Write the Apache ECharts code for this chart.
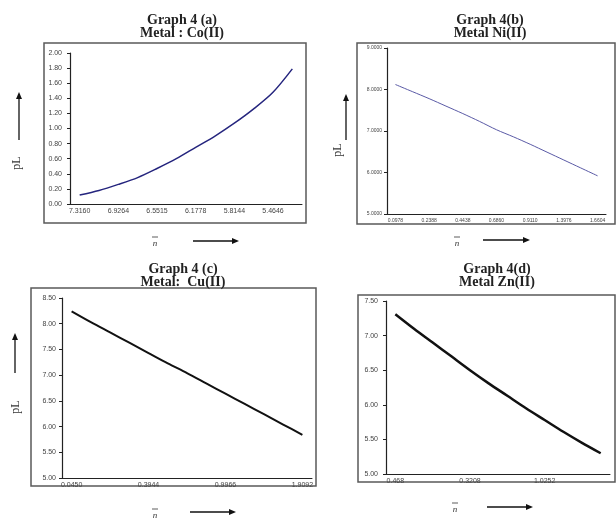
<!DOCTYPE html>
<html>
<head>
<meta charset="utf-8">
<script src="https://cdn.jsdelivr.net/npm/echarts@6/dist/echarts.min.js"></script>
<style>
  body { margin: 0; background: #fff; }
  #main { width: 616px; height: 524px; }
</style>
</head>
<body>
<div id="main"></div>
<script>
// n-bar categories and pL values
var catA = ['7.3160','7.1200','6.9264','6.7380','6.5515','6.3640','6.1778','5.9950','5.8144','5.6380','5.4646','5.2950'];
var pLA = [0.12, 0.18, 0.26, 0.35, 0.47, 0.60, 0.75, 0.90, 1.07, 1.26, 1.48, 1.79];

var catB = ['0.0978','0.1680','0.2388','0.3410','0.4438','0.5650','0.6860','0.7980','0.9110','1.1540','1.3976','1.5290','1.6604'];
var pLB = [8.12, 7.95, 7.78, 7.60, 7.42, 7.23, 7.03, 6.86, 6.68, 6.49, 6.30, 6.11, 5.92];

var catC = ['0.0450','0.1290','0.2140','0.3020','0.3944','0.5330','0.6770','0.8320','0.9966','1.2040','1.4260','1.6600','1.9092'];
var pLC = [8.24, 8.03, 7.83, 7.63, 7.43, 7.23, 7.04, 6.84, 6.64, 6.44, 6.24, 6.04, 5.84];

var catD = ['0.468','0.1120','0.1810','0.2500','0.3208','0.4850','0.6600','0.8400','1.0252','1.2300','1.4500','1.6800'];
var pLD = [7.31, 7.10, 6.90, 6.70, 6.50, 6.31, 6.13, 5.95, 5.78, 5.61, 5.45, 5.30];

var titles = [
  'Graph 4 (a)\nMetal : Co(II)',
  'Graph 4(b)\nMetal Ni(II)',
  'Graph 4 (c)\nMetal:  Cu(II)',
  'Graph 4(d)\nMetal Zn(II)'
];

var myChart = echarts.init(document.getElementById('main'));

var serif = '"Liberation Serif", "DejaVu Serif", serif';
var sans = '"Liberation Sans", Arial, sans-serif';

function xAxisOf(gi, data, labelInterval, fontSize) {
  return {
    type: 'category', gridIndex: gi, data: data, boundaryGap: true,
    axisLine: { lineStyle: { color: '#222', width: 1 } },
    axisTick: { interval: 0, length: 3, lineStyle: { color: '#222' } },
    axisLabel: { interval: labelInterval, fontSize: fontSize, color: '#444', fontFamily: sans, margin: 4 },
    splitLine: { show: false }
  };
}

function yAxisOf(gi, min, max, step, digits, fontSize, margin) {
  return {
    type: 'value', gridIndex: gi, min: min, max: max, interval: step,
    axisLine: { show: true, lineStyle: { color: '#222', width: 1.2 } },
    axisTick: { show: true, length: 3, lineStyle: { color: '#222' } },
    axisLabel: {
      fontSize: fontSize, color: '#444', fontFamily: sans, margin: margin,
      formatter: function (v) { return v.toFixed(digits); }
    },
    splitLine: { show: false }
  };
}

// decorations: frames, pL labels, arrows, n-bar labels
function frame(x, y, w, h) {
  return { type: 'rect', shape: { x: x, y: y, width: w, height: h },
    style: { fill: 'none', stroke: '#5a5a5a', lineWidth: 1.5 }, z: -1 };
}
function upArrow(x, y1, y2) {
  return [
    { type: 'line', shape: { x1: x, y1: y1, x2: x, y2: y2 + 6 }, style: { stroke: '#111', lineWidth: 1.3 } },
    { type: 'polygon', shape: { points: [[x - 3, y2 + 7], [x + 3, y2 + 7], [x, y2]] }, style: { fill: '#111' } }
  ];
}
function rightArrow(x1, x2, y) {
  return [
    { type: 'line', shape: { x1: x1, y1: y, x2: x2 - 6, y2: y }, style: { stroke: '#111', lineWidth: 1.3 } },
    { type: 'polygon', shape: { points: [[x2 - 7, y - 3], [x2 - 7, y + 3], [x2, y]] }, style: { fill: '#111' } }
  ];
}
function pL(x, y) {
  return { type: 'text', x: x, y: y, rotation: Math.PI / 2,
    style: { text: 'pL', font: '12px ' + serif, fill: '#333', align: 'center', verticalAlign: 'middle' } };
}
function nBar(x, y) {
  return [
    { type: 'text', x: x, y: y, style: { text: 'n', font: 'italic 9px ' + serif, fill: '#333', align: 'center', verticalAlign: 'middle' } },
    { type: 'line', shape: { x1: x - 3, y1: y - 7, x2: x + 3, y2: y - 7 }, style: { stroke: '#333', lineWidth: 0.8 } }
  ];
}

var graphics = [
  frame(44, 43, 262, 180),
  frame(357, 43, 258, 181),
  frame(31, 288, 285, 198),
  frame(358, 295, 257, 187),
  pL(17, 163), pL(338, 150), pL(16, 407)
].concat(
  upArrow(19, 140, 92), upArrow(346, 140, 94), upArrow(15, 373, 333),
  nBar(155, 244), rightArrow(193, 239, 241),
  nBar(457, 244), rightArrow(483, 530, 240),
  nBar(155, 516), rightArrow(190, 236, 512),
  nBar(455, 510), rightArrow(487, 533, 507)
);

myChart.setOption({
  animation: false,
  backgroundColor: '#fff',
  title: [
    { text: titles[0], left: 182, top: 14, textAlign: 'center' },
    { text: titles[1], left: 490, top: 14, textAlign: 'center' },
    { text: titles[2], left: 183, top: 263, textAlign: 'center' },
    { text: titles[3], left: 497, top: 263, textAlign: 'center' }
  ].map(function (t) {
    t.padding = 0;
    t.textStyle = { fontFamily: serif, fontWeight: 'bold', fontSize: 14, lineHeight: 13, color: '#222' };
    return t;
  }),
  grid: [
    { left: 70, top: 53, width: 232, height: 151 },
    { left: 387, top: 48, width: 219, height: 166 },
    { left: 62, top: 298, width: 250, height: 180 },
    { left: 386, top: 301, width: 224, height: 173 }
  ],
  xAxis: [
    xAxisOf(0, catA, 1, 7),
    xAxisOf(1, catB, 1, 5),
    xAxisOf(2, catC, 3, 7),
    xAxisOf(3, catD, 3, 7)
  ],
  yAxis: [
    yAxisOf(0, 0, 2, 0.2, 2, 7, 8),
    yAxisOf(1, 5, 9, 1, 4, 5, 5),
    yAxisOf(2, 5, 8.5, 0.5, 2, 7, 6),
    yAxisOf(3, 5, 7.5, 0.5, 2, 7, 8)
  ],
  series: [
    { type: 'line', xAxisIndex: 0, yAxisIndex: 0, data: pLA, smooth: 0.3, showSymbol: false,
      lineStyle: { color: '#25257e', width: 1.5 } },
    { type: 'line', xAxisIndex: 1, yAxisIndex: 1, data: pLB, smooth: 0.3, showSymbol: false,
      lineStyle: { color: '#5a5aa6', width: 1 } },
    { type: 'line', xAxisIndex: 2, yAxisIndex: 2, data: pLC, smooth: 0.3, showSymbol: false,
      lineStyle: { color: '#111', width: 2 } },
    { type: 'line', xAxisIndex: 3, yAxisIndex: 3, data: pLD, smooth: 0.3, showSymbol: false,
      lineStyle: { color: '#111', width: 2.5 } }
  ],
  graphic: graphics
});
</script>
</body>
</html>
